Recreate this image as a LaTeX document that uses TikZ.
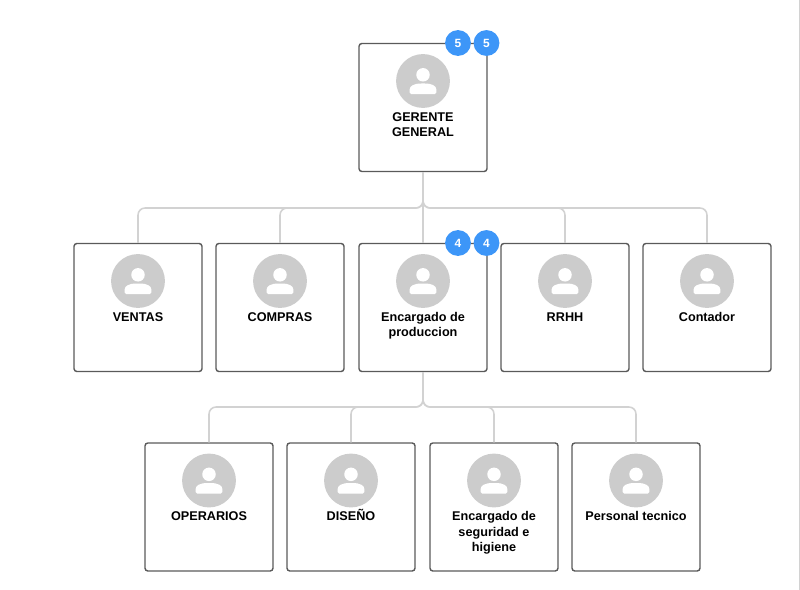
\documentclass[tikz,border=0pt]{standalone}
\usepackage{fontspec}
\setmainfont{Liberation Sans}
\definecolor{badgeblue}{HTML}{3D96F8}
\definecolor{avatargray}{HTML}{CCCCCC}
\definecolor{boxgray}{HTML}{5A5A5A}
\definecolor{linkgray}{HTML}{D2D2D2}

\tikzset{
    orgbox/.style={draw=boxgray, line width=1pt, rounded corners=2pt, fill=white, minimum width=91pt, minimum height=91pt, inner sep=0pt},
    avatar/.style={circle, fill=avatargray, minimum size=38.3pt, inner sep=0pt},
    head/.style={circle, fill=white, minimum size=9.6pt, inner sep=0pt},
    orgtext/.style={anchor=north, align=center, inner sep=0pt, font=\fontsize{9}{11}\selectfont\bfseries},
    badge/.style={circle, fill=badgeblue, text=white, minimum size=18.4pt, inner sep=0pt, font=\fontsize{8.5}{10}\selectfont\bfseries},
    link/.style={draw=linkgray, line width=1.1pt, rounded corners=5pt},
}

\begin{document}
\begin{tikzpicture}[x=0.025cm,y=-0.025cm]
\useasboundingbox (0,0) rectangle (800,590);

% edge of the sheet
\draw[linkgray, line width=0.7pt] (799.5,0) -- (799.5,590);

\coordinate (topbus) at (423,208);
\coordinate (midbus) at (423,407);

\foreach \name/\x/\y/\txt in {
    gerente/423/107.5/{GERENTE\\GENERAL},
    ventas/138/307.5/{VENTAS},
    compras/280/307.5/{COMPRAS},
    produccion/423/307.5/{Encargado de\\produccion},
    rrhh/565/307.5/{RRHH},
    contador/707/307.5/{Contador},
    operarios/209/507/{OPERARIOS},
    diseno/351/507/{DISEÑO},
    seguridad/494/507/{Encargado de\\seguridad e\\higiene},
    tecnico/636/507/{Personal tecnico}}{
    \node[orgbox] (\name) at (\x,\y) {};
    \node[avatar] (\name-pic) at (\x,\y-26.5) {};
    \node[head] (\name-head) at (\x,\y-32.7) {};
    \fill[white, rounded corners=1.2pt] (\x-13.3,\y-13.3) -- (\x-13.3,\y-16.5)
        .. controls (\x-13.3,\y-21.5) and (\x-9,\y-24) .. (\x,\y-24)
        .. controls (\x+9,\y-24) and (\x+13.3,\y-21.5) .. (\x+13.3,\y-16.5)
        -- (\x+13.3,\y-13.3) -- cycle;
    \node[orgtext] (\name-text) at (\x,\y+1.7) {\rule{0pt}{8.5pt}\txt};
}

\foreach \child in {ventas,compras,rrhh,contador}{
    \draw[link] (gerente.south) -- (topbus) -| (\child.north);
}
\draw[link] (gerente.south) -- (produccion.north);
\foreach \child in {operarios,diseno,seguridad,tecnico}{
    \draw[link] (produccion.south) -- (midbus) -| (\child.north);
}

\node[badge] (badgea) at (458,43) {5};
\node[badge] (badgeb) at (486.5,43) {5};
\node[badge] (badgec) at (458,243) {4};
\node[badge] (badged) at (486.5,243) {4};

\end{tikzpicture}
\end{document}
